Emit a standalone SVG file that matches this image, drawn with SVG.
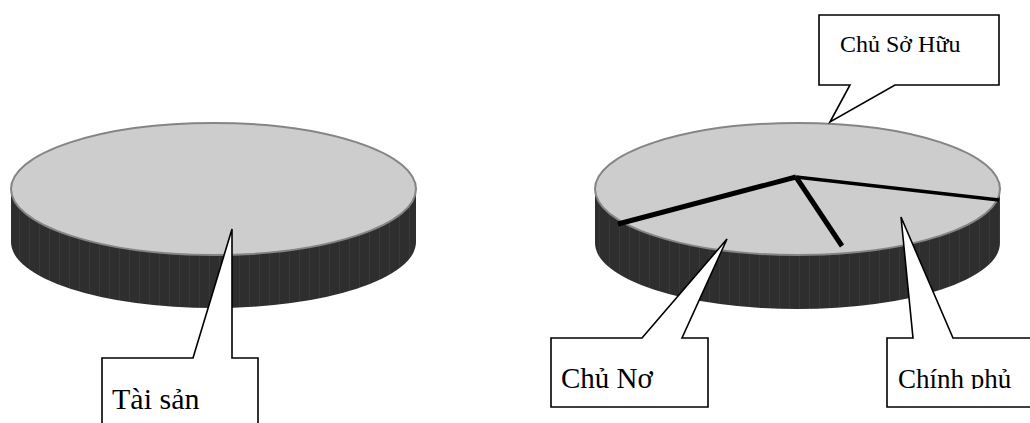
<svg xmlns="http://www.w3.org/2000/svg" width="1030" height="423" viewBox="0 0 1030 423">
  <style>
    .top { fill: #cdcdcd; stroke: #858585; stroke-width: 2; }
    .side { fill: url(#ribs); }
    .callout { fill: #ffffff; stroke: #000000; stroke-width: 1.6; stroke-linejoin: miter; }
    .label { font-family: "Liberation Serif", "Times New Roman", serif; fill: #000000; }
    .cut { stroke: #000000; stroke-linecap: butt; fill: none; }
  </style>
  <defs>
    <!-- ribbed dark band for the disk walls -->
    <pattern id="ribs" patternUnits="userSpaceOnUse" width="10" height="10">
      <rect width="10" height="10" fill="#2e2e2e"/>
      <rect x="9" width="1" height="10" fill="#393939"/>
    </pattern>
    <clipPath id="clipAsset"><rect x="0" y="0" width="1030" height="409"/></clipPath>
    <clipPath id="clipGov"><rect x="0" y="0" width="1030" height="389"/></clipPath>
  </defs>

  <!-- left disk -->
  <g id="disk-assets">
    <path class="side" d="M11,189 L11,242 A202.5,66 0 0 0 416,242 L416,189 Z"/>
    <ellipse class="top" cx="213.5" cy="189" rx="202.5" ry="66"/>
  </g>

  <!-- right disk, split into three claims -->
  <g id="disk-claims">
    <path class="side" d="M595,189 L595,243 A202.5,66 0 0 0 1000,243 L1000,189 Z"/>
    <ellipse class="top" cx="797.5" cy="189" rx="202.5" ry="66"/>
  </g>

  <g id="connectors">
    <line class="cut" x1="796" y1="177" x2="618" y2="224" stroke-width="5"/>
    <line class="cut" x1="796" y1="177" x2="842" y2="246" stroke-width="5"/>
    <line class="cut" x1="796" y1="177" x2="999" y2="200" stroke-width="3.5"/>
  </g>

  <!-- callout: Tài sản -->
  <g id="callout-assets">
    <path class="callout" d="M102,430 L102,358 L193,358 L232,229 L232,358 L258,358 L258,430"/>
    <text class="label" x="112" y="409" font-size="30" clip-path="url(#clipAsset)">Tài sản</text>
  </g>

  <!-- callout: Chủ Nơ -->
  <g id="callout-creditors">
    <path class="callout" d="M551,338 L642,338 L727,239 L682,338 L708,338 L708,407 L551,407 Z"/>
    <text class="label" x="561" y="388" font-size="29">Chủ Nơ</text>
  </g>

  <!-- callout: Chính phủ -->
  <g id="callout-government">
    <path class="callout" d="M1035,338 L953,338 L901,217 L913,338 L887,338 L887,407 L1035,407"/>
    <text class="label" x="898" y="388" font-size="27" clip-path="url(#clipGov)">Chính phủ</text>
  </g>

  <!-- callout: Chủ Sở Hữu -->
  <g id="callout-owners">
    <path class="callout" d="M819,15 L999,15 L999,85 L895,85 L830,122 L850,85 L819,85 Z"/>
    <text class="label" x="840" y="52" font-size="24">Chủ Sở Hữu</text>
  </g>
</svg>
